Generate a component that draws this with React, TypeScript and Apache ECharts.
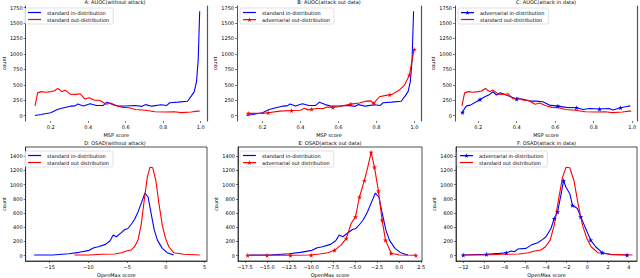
import React, { useEffect, useRef } from "react";
import * as echarts from "echarts";

// ---------------- data ----------------
const titles = [
  "A: AUOC(without attack)",
  "B: AUOC(attack out data)",
  "C: AUOC(attack in data)",
  "D: OSAD(without attack)",
  "E: OSAD(attack out data)",
  "F: OSAD(attack in data)",
];

const mspTicks = [0.2, 0.4, 0.6, 0.8, 1.0];
const mspCountTicks = [0, 250, 500, 750, 1000, 1250, 1500, 1750];
const omCountTicks = [0, 200, 400, 600, 800, 1000, 1200, 1400];
const omTicksD = [-15, -10, -5, 0, 5];
const omTicksE = [-17.5, -15, -12.5, -10, -7.5, -5, -2.5, 0, 2.5];
const omTicksF = [-12, -10, -8, -6, -4, -2, 0, 2, 4];

// [x, y, marker?]
const mspInStd = [
  [0.116, 5], [0.148, 20], [0.2, 48], [0.235, 100], [0.27, 130], [0.305, 155], [0.33, 160],
  [0.345, 190], [0.374, 158], [0.41, 195], [0.444, 165], [0.48, 168], [0.5, 220], [0.53, 180],
  [0.565, 155], [0.6, 158], [0.65, 165], [0.687, 152], [0.705, 180], [0.74, 155], [0.79, 178],
  [0.818, 165], [0.835, 210], [0.879, 220], [0.93, 235], [0.95, 318], [0.966, 390],
  [0.978, 550], [0.987, 900], [0.995, 1690],
];
const mspOutStd = [
  [0.116, 160], [0.13, 370], [0.148, 390], [0.174, 380], [0.2, 390], [0.217, 400], [0.238, 440],
  [0.26, 390], [0.278, 415], [0.304, 350], [0.34, 345], [0.357, 355], [0.383, 270], [0.405, 290],
  [0.435, 250], [0.46, 250], [0.496, 185], [0.52, 205], [0.548, 165], [0.583, 135], [0.618, 130],
  [0.652, 100], [0.705, 90], [0.757, 65], [0.81, 60], [0.86, 65], [0.896, 50], [0.95, 60],
  [0.983, 75], [0.995, 75],
];
const mspOutAdv = [
  [0.125, 38, 1], [0.2, 38], [0.23, 48, 1], [0.29, 75], [0.353, 85, 1], [0.4, 90], [0.42, 120],
  [0.44, 95], [0.458, 105, 1], [0.485, 118], [0.52, 118], [0.54, 140], [0.57, 135, 1], [0.6, 145],
  [0.64, 172], [0.665, 188, 1], [0.71, 205], [0.745, 237], [0.77, 240], [0.785, 200, 1],
  [0.815, 307], [0.85, 330], [0.87, 340, 1], [0.885, 350], [0.92, 415], [0.947, 495],
  [0.973, 657, 1], [0.987, 900], [0.998, 1070, 1],
];
const mspInAdv = [
  [0.119, 54, 1], [0.13, 120], [0.14, 160], [0.16, 172], [0.19, 226], [0.21, 264, 1], [0.235, 307],
  [0.26, 345], [0.278, 388], [0.295, 334], [0.315, 372], [0.345, 334], [0.38, 296], [0.4, 270, 1],
  [0.43, 270], [0.466, 237], [0.5, 237], [0.536, 226], [0.57, 172], [0.614, 156, 1], [0.657, 135],
  [0.71, 130, 1], [0.745, 102], [0.78, 118], [0.83, 108, 1], [0.88, 118], [0.9, 92],
  [0.94, 130, 1], [0.966, 145], [0.99, 160],
];
const omInStd = [
  [-17, 9], [-14.6, 9], [-12.5, 28], [-11.2, 47], [-9.9, 75], [-9.3, 112], [-8.7, 126],
  [-7.8, 159], [-7.2, 210], [-6.8, 290], [-6.4, 266], [-5.8, 322], [-5.3, 369], [-4.9, 383],
  [-4.4, 453], [-4.05, 509], [-3.6, 616], [-3.2, 733], [-2.7, 882], [-2.3, 826], [-1.95, 616],
  [-1.5, 359], [-1.1, 219], [-0.47, 103], [0.16, 42], [1.0, 9],
];
const omOutStd = [
  [-11.8, 9], [-9.9, 9], [-8.3, 19], [-6.6, 23], [-5.7, 42], [-5.1, 65], [-4.5, 79], [-4.05, 126],
  [-3.6, 219], [-3.2, 429], [-2.8, 779], [-2.4, 1106], [-2.05, 1246], [-1.7, 1237], [-1.3, 1059],
  [-0.9, 733], [-0.47, 429], [-0.05, 243], [0.37, 126], [1.0, 42], [2.26, 19], [4.37, 9],
];
const omOutAdv = [
  [-17.2, 5, 1], [-15, 5, 1], [-12.35, 5, 1], [-10, 9, 1], [-9.05, 23], [-8.1, 42], [-7.35, 75, 1],
  [-6.6, 149], [-6.0, 243, 1], [-5.45, 453], [-4.96, 546, 1], [-4.5, 826, 1], [-3.94, 1059, 1],
  [-3.56, 1246], [-3.18, 1456, 1], [-2.8, 1246, 1], [-2.35, 910, 1], [-1.93, 500, 1],
  [-1.55, 219, 1], [-0.9, 33, 1], [0.04, 9], [1.9, 5, 1],
];
const omInAdv = [
  [-12, 9, 1], [-9.76, 19, 1], [-8.5, 33], [-7.84, 42, 1], [-7.36, 65], [-7.04, 56], [-6.72, 93],
  [-5.92, 103], [-5.44, 149], [-4.8, 182], [-4.32, 229], [-4.0, 266], [-3.52, 383],
  [-3.2, 523, 1], [-2.88, 616, 1], [-2.56, 849], [-2.3, 1059, 1], [-2.08, 966], [-1.7, 873],
  [-1.44, 709, 1], [-0.96, 663], [-0.64, 546, 1], [-0.16, 383], [0.32, 219, 1], [0.8, 126],
  [1.44, 42, 1], [2.4, 14], [3.84, 9, 1],
];

// ---------------- styling ----------------
const FONT = "DejaVu Sans";
const BLUE = "#0000ff";
const RED = "#ff0000";
const STAR =
  "path://M50,0 L61,35 L98,35 L68,57 L79,91 L50,70 L21,91 L32,57 L2,35 L39,35 Z";
// legend icons (box 26 x 10 -> drawn at 13 x 5)
const ICON_LINE = "path://M0,3.8 L26,3.8 L26,6.2 L0,6.2 Z";
const ICON_STAR_LINE =
  "path://M0,3.8 L26,3.8 L26,6.2 L0,6.2 Z M13,0 L14.2,3.5 L17.8,3.5 L14.9,5.7 L16,9.2 L13,7.1 L10,9.2 L11.1,5.7 L8.2,3.5 L11.8,3.5 Z";

const fmtNum = (dec: number) => (v: number) => {
  const s = Math.abs(v).toFixed(dec);
  return v < 0 ? "\u2212" + s : s;
};

type SeriesDef = { name: string; color: string; data: number[][]; star?: boolean };
type Panel = {
  grid: { left: number; top: number; width: number; height: number };
  xMin: number; xMax: number; xTicks: number[]; xDec: number; xName: string;
  yMin: number; yMax: number; yTicks: number[];
  legend: { left: number; top: number };
  series: SeriesDef[];
  box: boolean;
};

const topY = { yMin: -85, yMax: 1775, yTicks: mspCountTicks };
const botY = { yMin: -75, yMax: 1530, yTicks: omCountTicks };

const panels: Panel[] = [
  {
    grid: { left: 23, top: 6, width: 184, height: 115 },
    xMin: 0.066, xMax: 1.034, xTicks: mspTicks, xDec: 1, xName: "MSP score", ...topY,
    legend: { left: 25, top: 8 }, box: false,
    series: [
      { name: "standard in-distribution", color: BLUE, data: mspInStd },
      { name: "standard out-distribution", color: RED, data: mspOutStd },
    ],
  },
  {
    grid: { left: 237, top: 6, width: 184, height: 115 },
    xMin: 0.066, xMax: 1.034, xTicks: mspTicks, xDec: 1, xName: "MSP score", ...topY,
    legend: { left: 240, top: 8 }, box: false,
    series: [
      { name: "standard in-distribution", color: BLUE, data: mspInStd },
      { name: "adversarial out-distribution", color: RED, data: mspOutAdv, star: true },
    ],
  },
  {
    grid: { left: 455, top: 6, width: 182, height: 115 },
    xMin: 0.08, xMax: 1.025, xTicks: mspTicks, xDec: 1, xName: "MSP score", ...topY,
    legend: { left: 458, top: 8 }, box: false,
    series: [
      { name: "adversarial in-distribution", color: BLUE, data: mspInAdv, star: true },
      { name: "standard out-distribution", color: RED, data: mspOutStd },
    ],
  },
  {
    grid: { left: 23, top: 147, width: 184, height: 116 },
    xMin: -18.1, xMax: 5.3, xTicks: omTicksD, xDec: 0, xName: "OpenMax score", ...botY,
    legend: { left: 25, top: 151 }, box: true,
    series: [
      { name: "standard in-distribution", color: BLUE, data: omInStd },
      { name: "standard out distribution", color: RED, data: omOutStd },
    ],
  },
  {
    grid: { left: 238, top: 147, width: 184, height: 116 },
    xMin: -18.3, xMax: 2.6, xTicks: omTicksE, xDec: 1, xName: "OpenMax score", ...botY,
    legend: { left: 240, top: 151 }, box: true,
    series: [
      { name: "standard in-distribution", color: BLUE, data: omInStd },
      { name: "adversarial out distribution", color: RED, data: omOutAdv, star: true },
    ],
  },
  {
    grid: { left: 456, top: 147, width: 181, height: 116 },
    xMin: -12.7, xMax: 4.8, xTicks: omTicksF, xDec: 0, xName: "OpenMax score", ...botY,
    legend: { left: 457, top: 151 }, box: true,
    series: [
      { name: "adversarial in-distribution", color: BLUE, data: omInAdv, star: true },
      { name: "standard out distribution", color: RED, data: omOutStd },
    ],
  },
];

function buildOption() {
  const grid: any[] = [];
  const xAxis: any[] = [];
  const yAxis: any[] = [];
  const series: any[] = [];
  const legend: any[] = [];
  const graphic: any[] = [];
  const labelStyle = { fontSize: 5, color: "#000", fontFamily: FONT };

  panels.forEach((p, i) => {
    grid.push({
      ...p.grid,
      show: p.box,
      borderColor: "#222",
      borderWidth: 0.8,
      backgroundColor: "transparent",
      containLabel: false,
    });
    xAxis.push({
      type: "value",
      gridIndex: i,
      min: p.xMin,
      max: p.xMax,
      name: p.xName,
      nameLocation: "middle",
      nameGap: 11,
      nameTextStyle: labelStyle,
      axisLine: { show: p.box, onZero: false, lineStyle: { color: "#222", width: 0.8 } },
      axisTick: { show: true, length: 2, customValues: p.xTicks, lineStyle: { color: "#222", width: 0.6 } },
      axisLabel: { ...labelStyle, margin: 3, customValues: p.xTicks, formatter: fmtNum(p.xDec) },
      splitLine: { show: false },
    });
    const yIndex = yAxis.length;
    yAxis.push({
      type: "value",
      gridIndex: i,
      min: p.yMin,
      max: p.yMax,
      name: "count",
      nameLocation: "middle",
      nameGap: 18,
      nameRotate: 90,
      nameTextStyle: labelStyle,
      axisLine: { show: true, onZero: false, lineStyle: { color: "#222", width: 0.8 } },
      axisTick: { show: true, length: 2, customValues: p.yTicks, lineStyle: { color: "#222", width: 0.6 } },
      axisLabel: { ...labelStyle, margin: 3, customValues: p.yTicks, formatter: fmtNum(0) },
      splitLine: { show: false },
    });
    if (!p.box) {
      yAxis.push({
        type: "value",
        gridIndex: i,
        position: "right",
        min: p.yMin,
        max: p.yMax,
        axisLine: { show: true, onZero: false, lineStyle: { color: "#555", width: 1.2 } },
        axisTick: { show: false },
        axisLabel: { show: false },
        splitLine: { show: false },
      });
    }
    p.series.forEach((s) => {
      series.push({
        type: "line",
        name: s.name,
        xAxisIndex: i,
        yAxisIndex: yIndex,
        symbol: s.star ? STAR : "none",
        symbolSize: 5,
        showSymbol: !!s.star,
        showAllSymbol: true,
        color: s.color,
        lineStyle: { color: s.color, width: 1.1 },
        itemStyle: { color: s.color },
        data: s.data.map((d) =>
          s.star ? { value: [d[0], d[1]], symbol: d[2] ? STAR : "none" } : [d[0], d[1]]
        ),
        z: 2,
      });
    });
    legend.push({
      data: p.series.map((s) => ({
        name: s.name,
        icon: s.star ? ICON_STAR_LINE : ICON_LINE,
        itemStyle: { color: s.color },
      })),
      orient: "vertical",
      left: p.legend.left,
      top: p.legend.top,
      padding: [2, 4, 2, 3],
      itemGap: 2,
      itemWidth: 13,
      itemHeight: 5,
      selectedMode: false,
      symbolKeepAspect: true,
      borderColor: "#ccc",
      borderWidth: 0.6,
      borderRadius: 1.5,
      backgroundColor: "rgba(255,255,255,0.85)",
      textStyle: { fontSize: 5, color: "#000", fontFamily: FONT, padding: [0, 0, 0, 1] },
    });
    graphic.push({
      type: "text",
      x: p.grid.left + p.grid.width / 2,
      y: p.grid.top - 2,
      style: {
        text: titles[i],
        fontSize: 5,
        fontFamily: FONT,
        fill: "#000",
        textAlign: "center",
        textVerticalAlign: "bottom",
      },
    });
  });

  return {
    animation: false,
    backgroundColor: "#ffffff",
    grid,
    xAxis,
    yAxis,
    series,
    legend,
    graphic,
  };
}

export default function App() {
  const ref = useRef<HTMLDivElement>(null);
  useEffect(() => {
    if (!ref.current) return;
    const chart = echarts.init(ref.current, undefined, { renderer: "svg" });
    chart.setOption(buildOption());
    return () => chart.dispose();
  }, []);
  return (
    <div
      ref={ref}
      style={{ position: "absolute", left: 0, top: 0, width: 640, height: 278 }}
    />
  );
}
